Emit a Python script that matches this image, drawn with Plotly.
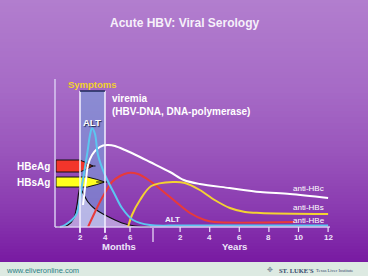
import plotly.graph_objects as go

W, H = 368, 276

# ---- timeline: a month scale, a break, then a year scale -------------------
MONTH_END = 7.84      # last axis position of the month scale (break line)
YEAR_ORIGIN = 7.64    # axis position of year 0 on the year scale
YEAR_SCALE = 1.184    # axis units per year


def axis_pos(months):
    """Map a time in months onto the broken months|years axis."""
    if months <= MONTH_END:
        return months
    return YEAR_ORIGIN + YEAR_SCALE * months / 12.0


month_ticks = [2, 4, 6]
year_ticks = [2, 4, 6, 8, 10, 12]
symptom_window = [2, 4]          # months
symptom_top = 136                # relative level of the symptoms bar

# ---- serology curves: time in months, relative level -----------------------
alt_t = [0.4, 0.8, 1.68, 2.16, 2.56, 2.8, 2.96, 3.2, 3.44, 4.0, 4.8, 5.36, 6.24, 7.6, 24, 144]
alt_v = [0, 2, 12, 42, 72, 92, 99, 93, 72, 52, 32, 19, 7, 2, 1.5, 1.5]

hbsag_t = [0.16, 1.04, 1.52, 1.76, 2.0, 2.32, 2.64, 3.2, 4.0, 4.8, 5.36, 6.4, 7.6]
hbsag_v = [0, 2, 9, 22, 39, 32, 25, 18, 12, 7, 4, 1, 0]

anti_hbc_t = [2.24, 2.48, 2.64, 2.96, 3.36, 3.84, 4.24, 4.8, 5.6, 6.8, 7.6, 15.8, 27, 40, 64, 89, 113, 144]
anti_hbc_v = [22, 47, 62, 72, 78, 81.5, 82, 81, 77, 70, 65, 55, 47, 43, 39, 35, 33, 29]

anti_hbe_t = [2.64, 3.2, 3.76, 4.56, 5.2, 5.84, 6.64, 7.6, 15.8, 32, 44, 52, 117]
anti_hbe_v = [0, 15, 29, 45, 51, 54, 53, 46, 30, 14, 7, 5, 5]

anti_hbs_t = [5.84, 6.16, 6.8, 7.7, 18.2, 28, 40, 52, 64.4, 76.7, 89, 144]
anti_hbs_v = [0, 12, 27, 41, 45, 44, 37, 27, 19, 15, 14, 13]

# antigen bars (HBeAg, HBsAg): end time in months, band centre and half height
antigen_names = ["HBeAg", "HBsAg"]
antigen_end = [3.04, 4.0]
antigen_mid = [61, 45]
antigen_half = [6, 5]
antigen_colors = ["#F2352B", "#FFFF1E"]

# ---- pixel frame: the axes span the whole page -----------------------------
X0_PX, BASE_PX, PX_PER_UNIT = 55, 227, 12.5


def at(px, py):
    return (px - X0_PX) / PX_PER_UNIT, BASE_PX - py


fig = go.Figure()

# background gradient, drawn as thin horizontal bands
stops = [(0, (178, 126, 206)), (90, (166, 106, 198)), (150, (154, 86, 188)),
         (210, (138, 58, 176)), (262, (120, 26, 162))]


def grad(py):
    for (a, ca), (b, cb) in zip(stops, stops[1:]):
        if py <= b:
            f = (py - a) / (b - a)
            return tuple(round(ca[i] + (cb[i] - ca[i]) * f) for i in range(3))
    return stops[-1][1]


shapes = []
band = 3
for y in range(0, 262, band):
    c = grad(y + band / 2)
    shapes.append(dict(type="rect", xref="paper", yref="paper", x0=0, x1=1,
                       y0=1 - min(y + band + 0.5, 262) / H, y1=1 - y / H,
                       fillcolor="rgb(%d,%d,%d)" % c, line_width=0, layer="below"))
# footer strip
shapes.append(dict(type="rect", xref="paper", yref="paper", x0=0, x1=1, y0=0,
                   y1=1 - 262 / H, fillcolor="#DDEAE2", line_width=0, layer="below"))

# symptoms window
sx0, sx1 = axis_pos(symptom_window[0]), axis_pos(symptom_window[1])
shapes.append(dict(type="rect", x0=sx0, x1=sx1, y0=0, y1=symptom_top,
                   fillcolor="rgba(118,168,222,0.55)", line_width=0, layer="below"))

# axes lines
axis_col = "#D9CAF0"
x_end = axis_pos(year_ticks[-1] * 12) + 0.15
shapes.append(dict(type="line", x0=0, x1=0, y0=0, y1=148, line=dict(color=axis_col, width=1.5)))
shapes.append(dict(type="line", x0=0, x1=x_end, y0=0, y1=0, line=dict(color=axis_col, width=1.5)))

fig.update_layout(shapes=shapes)

# antigen bars with tapered ends
for name, end, mid, half, col in zip(antigen_names, antigen_end, antigen_mid,
                                     antigen_half, antigen_colors):
    start = 0.08
    shoulder = start + (end - start) * 0.64
    knee = start + (end - start) * 0.82
    xs = [start, shoulder, knee, end, knee, shoulder, start, start]
    ys = [mid + half, mid + half, mid + half * 0.55, mid, mid - half * 0.55,
          mid - half, mid - half, mid + half]
    fig.add_trace(go.Scatter(x=xs, y=ys, mode="lines", fill="toself", fillcolor=col,
                             line=dict(color="#111111", width=1), hoverinfo="skip",
                             showlegend=False))
    fig.add_trace(go.Scatter(x=[knee, end + 0.2], y=[mid, mid], mode="lines",
                             line=dict(color="#111111", width=1), hoverinfo="skip",
                             showlegend=False))


def curve(ts, vs, color, width, **kw):
    fig.add_trace(go.Scatter(x=[axis_pos(t) for t in ts], y=vs, mode="lines",
                             line=dict(color=color, width=width, shape="spline",
                                       smoothing=0.9),
                             hoverinfo="skip", showlegend=False, **kw))


curve(hbsag_t, hbsag_v, "#101010", 1.2, fill="tozeroy",
      fillcolor="rgba(222,226,250,0.6)")
curve(anti_hbe_t, anti_hbe_v, "#E83A3A", 2)
curve(anti_hbs_t, anti_hbs_v, "#F3D232", 2)
curve(anti_hbc_t, anti_hbc_v, "#FFFFFF", 2)
curve(alt_t, alt_v, "#5CC6F0", 2)

# symptoms window edges
box_edges = [
    dict(type="line", x0=sx0, x1=sx0, y0=-6, y1=symptom_top, line=dict(color="#F4F0FF", width=1.5)),
    dict(type="line", x0=sx1, x1=sx1, y0=-6, y1=symptom_top, line=dict(color="#F4F0FF", width=1.5)),
    dict(type="line", x0=sx0, x1=sx1, y0=symptom_top, y1=symptom_top, line=dict(color="#1E2A5A", width=1.5)),
]
# ticks and the months|years break
tick_col = "#EEE6FA"
for m in month_ticks:
    box_edges.append(dict(type="line", x0=axis_pos(m), x1=axis_pos(m), y0=0, y1=-5,
                          line=dict(color=tick_col, width=1.2)))
for yv in year_ticks:
    xp = axis_pos(yv * 12)
    box_edges.append(dict(type="line", x0=xp, x1=xp, y0=0, y1=-5,
                          line=dict(color=tick_col, width=1.2)))
box_edges.append(dict(type="line", x0=MONTH_END, x1=MONTH_END, y0=-1, y1=-15,
                      line=dict(color=tick_col, width=1.2)))
for s in box_edges:
    fig.add_shape(**s)

FONT = "Liberation Sans, Arial, sans-serif"
ann = []


def label(text, px, py, size, color="#FFFFFF", anchor="center", family=FONT, **extra):
    x, y = at(px, py)
    font = dict(size=size, color=color, family=family)
    font.update(extra)
    ann.append(dict(x=x, y=y, text=text, showarrow=False, xanchor=anchor,
                    yanchor="middle", font=font))


label("<b>Acute HBV: Viral Serology</b>", 184, 23, 12, "#F6F0FA")
label("<b>Symptoms</b>", 92, 84, 9.5, "#F2D22A")
label("<b>viremia</b>", 110, 98, 10, "#FFFFFF", anchor="left")
label("<b>(HBV-DNA, DNA-polymerase)</b>", 110, 111, 10, "#FFFFFF", anchor="left")
label("<b>ALT</b>", 92, 122, 9.5, "#FFFFFF", shadow="1px 1px 1px #1A2550")
label("<b>HBeAg</b>", 33, 166, 10, "#FFFFFF")
label("<b>HBsAg</b>", 33, 182, 10, "#FFFFFF")
label("<b>ALT</b>", 172, 219, 8, "#F4F0FF")
label("anti-HBc", 326, 188, 8, "#FFFFFF", anchor="right")
label("anti-HBs", 326, 207, 8, "#FFFFFF", anchor="right")
label("anti-HBe", 327, 220, 8, "#FFFFFF", anchor="right")

# tick labels
for m in month_ticks:
    ann.append(dict(x=axis_pos(m), y=at(0, 237)[1], text="<b>%d</b>" % m, showarrow=False,
                    font=dict(size=8, color=tick_col, family=FONT)))
for yv in year_ticks:
    ann.append(dict(x=axis_pos(yv * 12), y=at(0, 237)[1], text="<b>%d</b>" % yv,
                    showarrow=False, font=dict(size=8, color=tick_col, family=FONT)))
label("<b>Months</b>", 119, 246, 9.5, tick_col)
label("<b>Years</b>", 234, 246, 9.5, tick_col)

# footer
label("www.eliveronline.com", 4, 270, 7.5, "#2B7F86", anchor="left")
label("✥", 270, 269.5, 7, "#7A8A9A")
label("<b>ST. LUKE'S</b>", 277, 270, 6.5, "#33476A", anchor="left",
      family="Liberation Serif, serif")
label("Texas Liver Institute", 314, 270, 4.5, "#33476A", anchor="left",
      family="Liberation Serif, serif")

fig.update_layout(
    annotations=ann,
    width=W, height=H, autosize=False,
    margin=dict(l=0, r=0, t=0, b=0, pad=0),
    paper_bgcolor="#8A3CB0",
    plot_bgcolor="rgba(0,0,0,0)",
    xaxis=dict(range=[-X0_PX / PX_PER_UNIT, (W - X0_PX) / PX_PER_UNIT], visible=False,
               fixedrange=True),
    yaxis=dict(range=[BASE_PX - H, BASE_PX], visible=False, fixedrange=True),
    showlegend=False,
)

fig.write_html("out.html", config=dict(displayModeBar=False))
